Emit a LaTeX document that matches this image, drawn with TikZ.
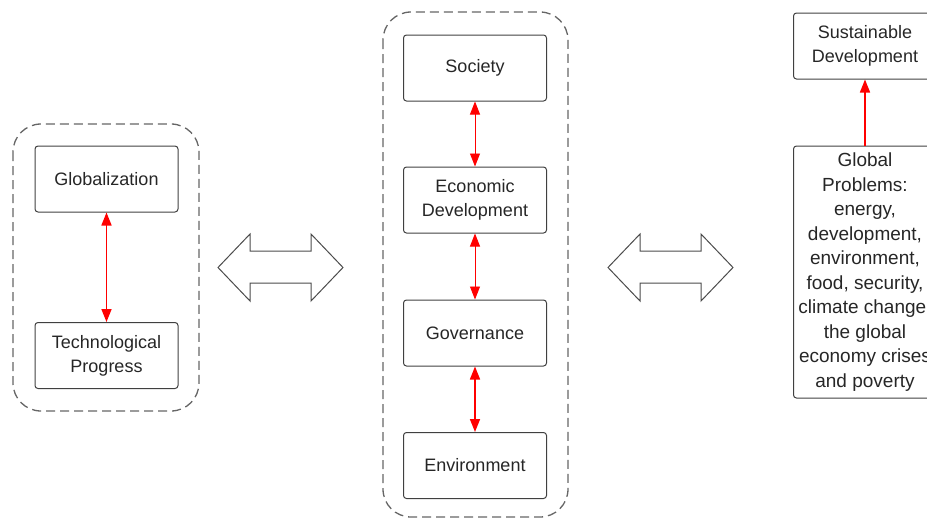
\documentclass[tikz,border=0pt]{standalone}
\usepackage{fontspec}
\setmainfont{Liberation Sans}
\usetikzlibrary{arrows.meta}

\begin{document}
\begin{tikzpicture}[x=1pt,y=-1pt,
  box/.style={draw=black!75, line width=1pt, rounded corners=3pt, minimum width=143pt, minimum height=66pt,
    align=center, text=black!85, font=\fontsize{18}{24}\selectfont, inner sep=2pt},
  group/.style={draw=black!60, line width=1.3pt, dash pattern=on 9pt off 5pt, rounded corners=28pt},
  link/.style={red, line width=1.6pt, {Triangle[length=13pt,width=10pt]}-{Triangle[length=13pt,width=10pt]}},
  thinlink/.style={link, line width=0.9pt},
  hollow/.style={draw=black!70, line width=1pt, fill=white}]
\useasboundingbox (0,0) rectangle (927,520);
% left group
\draw [group] (13,124) rectangle (199,411);
\node [box] (glob) at (106.5,179) {Globalization};
\node [box] (tech) at (106.5,355.5) {Technological\\Progress};
\draw [link] (glob) -- (tech);
% middle group
\draw [group] (383,12) rectangle (568,517);
\node [box] (soc) at (475,68) {Society};
\node [box] (econ) at (475,200) {Economic\\Development};
\node [box] (gov) at (475,333) {Governance};
\node [box] (env) at (475,465.5) {Environment};
\draw [thinlink] (soc) -- (econ);
\draw [thinlink] (econ) -- (gov);
\draw [link] (gov) -- (env);
% right column
\node [box] (sust) at (865,46) {Sustainable\\Development};
\node [box, minimum height=252pt, font=\fontsize{19}{24.5}\selectfont] (probs) at (865,272)
  {Global\\Problems:\\energy,\\development,\\environment,\\food, security,\\climate change,\\the global\\economy crises\\and poverty};
\draw [red, line width=1.6pt, -{Triangle[length=13pt,width=10pt]}] (probs) -- (sust);
% double arrows
\draw [hollow] (218,267.5) -- (250,234) -- (250,251) -- (311,251) -- (311,234) -- (343,267.5)
  -- (311,301) -- (311,283) -- (250,283) -- (250,301) -- cycle;
\draw [hollow] (608,267.5) -- (640,234) -- (640,251) -- (701,251) -- (701,234) -- (733,267.5)
  -- (701,301) -- (701,283) -- (640,283) -- (640,301) -- cycle;
\end{tikzpicture}
\end{document}
